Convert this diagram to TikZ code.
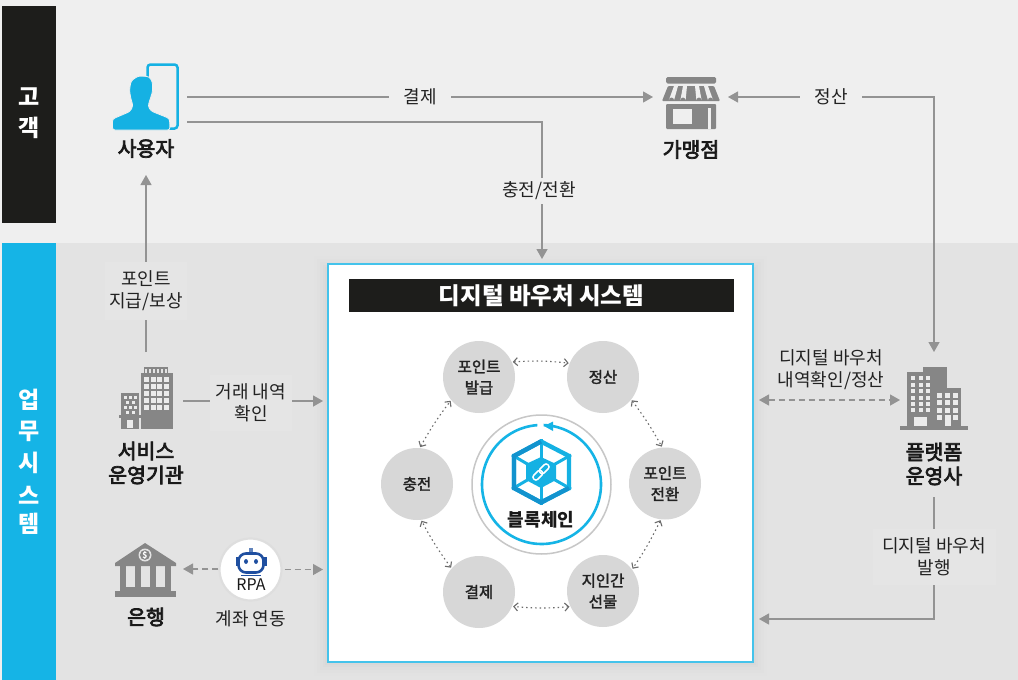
\documentclass[tikz,border=0pt]{standalone}
\usepackage{fontspec}
\usetikzlibrary{arrows.meta,calc}
\setmainfont{Noto Sans CJK KR}
\newfontfamily\medfont[FakeBold=2]{Noto Sans CJK KR}
\newfontfamily\semifont[FakeBold=3.5]{Noto Sans CJK KR}
\definecolor{bgtop}{HTML}{EFEFEF}
\definecolor{bglow}{HTML}{E3E3E3}
\definecolor{lblbox}{HTML}{E5E5E5}
\definecolor{barblack}{HTML}{1D1D1B}
\definecolor{barblue}{HTML}{15B4E6}
\definecolor{iconblue}{HTML}{15B1E3}
\definecolor{darkblue}{HTML}{1293CE}
\definecolor{icongray}{HTML}{868686}
\definecolor{linegray}{HTML}{939393}
\definecolor{circgray}{HTML}{D7D7D7}
\definecolor{txt}{HTML}{222222}
\definecolor{robotblue}{HTML}{1F4FA0}
\tikzset{
  ghost/.style={inner sep=0pt,outer sep=0pt},
  bartext/.style={text=white,font=\fontsize{23}{25}\selectfont\bfseries,inner sep=0pt},
  biglabel/.style={text=black!90,font=\fontsize{20.5}{24}\selectfont\semifont,align=center,inner sep=0pt},
  edgetext/.style={text=txt,font=\fontsize{18}{22}\selectfont,align=center,inner sep=0pt},
  conn/.style={draw=linegray,line width=1.3pt,-{Triangle[length=10pt,width=11pt]}},
  connboth/.style={conn,{Triangle[length=10pt,width=11pt]}-{Triangle[length=10pt,width=11pt]}},
  dashconn/.style={conn,dash pattern=on 6pt off 4pt},
  roundstep/.style={circle,fill=circgray,minimum size=72pt,inner sep=0pt,outer sep=1pt,text=txt,align=center,font=\fontsize{15.5}{21}\selectfont\medfont},
  dotconn/.style={draw=black!58,line width=1.1pt,dash pattern=on 1.5pt off 3pt,{Straight Barb[length=4pt,width=8pt]}-{Straight Barb[length=4pt,width=8pt]}},
}
\begin{document}
\begin{tikzpicture}[x=1pt,y=-1pt]
\useasboundingbox (0,0) rectangle (1018,680);
\fill[bgtop] (0,0) rectangle (1018,680);
\fill[bglow] (2,243) rectangle (1018,680);
\fill[barblack] (2,6) rectangle (56,223);
\fill[barblue] (2,243) rectangle (56,680);
\node[bartext] (barA1) at (29,97) {고};
\node[bartext] (barA2) at (29,128) {객};
\node[bartext] (barB1) at (29,400) {업};
\node[bartext] (barB2) at (29,431) {무};
\node[bartext] (barB3) at (29,463) {시};
\node[bartext] (barB4) at (29,495) {스};
\node[bartext] (barB5) at (29,524) {템};
% soft shadow of the system panel
\foreach \d/\o in {14/.004,11/.006,8/.008,5/.01,3/.012}{
  \fill[black,opacity=\o] (328-\d,264-\d+6) rectangle (753+\d,662+\d);
}
% anchor nodes
\node[ghost,minimum width=82pt,minimum height=156pt] (user) at (146,97) {};
\node[ghost,minimum width=75pt,minimum height=60pt] (shop) at (690.5,97) {};
\node[ghost,minimum width=74pt,minimum height=98pt] (svc) at (146,401) {};
\node[ghost,minimum width=74pt,minimum height=60pt] (bank) at (146,569) {};
\node[ghost,minimum width=68pt,minimum height=96pt] (plat) at (934,400) {};
\node[ghost,minimum width=68pt,minimum height=68pt] (platlab) at (934,463) {};
% system panel
\node[draw=barblue!80,line width=1.2pt,fill=white,minimum width=425pt,minimum height=398pt,inner sep=0pt,outer sep=0pt] (sys) at (540.5,463) {};
\coordinate (sysIn) at (753,619);
% connectors
\draw[conn] (user.east) -- (shop.west);
\draw[conn,shorten >=5pt] ([yshift=-25pt]user.east) -| ([xshift=1.5pt]sys.north);
\draw[connboth] (shop.east) -| (plat.north);
\draw[conn] (svc.north) -- (user.south);
\draw[conn,shorten >=5pt] (svc.east) -- (svc.east -| sys.west);
\draw[dashconn,{Triangle[length=10pt,width=11pt]}-{Triangle[length=10pt,width=11pt]},shorten <=6pt] (sys.east |- plat.west) -- (plat.west);
\draw[conn,shorten >=6pt] (platlab.south) |- (sysIn);
% edge labels
\node[edgetext,fill=bgtop,minimum width=62pt,minimum height=24pt] (lblPay) at (420,97) {결제};
\node[edgetext,fill=bgtop,minimum width=62pt,minimum height=24pt] (lblSettle) at (831,97) {정산};
\node[edgetext,fill=bgtop,minimum width=90pt,minimum height=26pt] (lblCharge) at (539,190.5) {충전/전환};
\node[edgetext,fill=lblbox,minimum width=82pt,minimum height=58pt] (lblPoint) at (146,291) {포인트\\지급/보상};
\node[edgetext,fill=lblbox,minimum width=82pt,minimum height=56pt] (lblTrade) at (251,403) {거래 내역\\확인};
\node[edgetext] (lblCheck) at (831,370) {디지털 바우처\\내역확인/정산};
\node[edgetext,fill=lblbox,minimum width=123pt,minimum height=56pt] (lblIssue) at (934,557) {디지털 바우처\\발행};
% big labels
\node[biglabel] (tUser) at (146,148.5) {사용자};
\node[biglabel] (tShop) at (691,149.5) {가맹점};
\node[biglabel] (tSvc) at (146,463) {서비스\\운영기관};
\node[biglabel] (tBank) at (146,617) {은행};
\node[biglabel] (tPlat) at (934,464) {플랫폼\\운영사};
% panel title
\node[fill=barblack,text=white,minimum width=385pt,minimum height=33pt,inner sep=0pt,font=\fontsize{23.5}{25}\selectfont\bfseries] (title) at (541.5,295.5) {디지털 바우처 시스템};
% process circles
\node[roundstep] (c1) at (479,377) {포인트\\발급};
\node[roundstep] (c2) at (603,377) {정산};
\node[roundstep] (c3) at (665,483.5) {포인트\\전환};
\node[roundstep] (c4) at (603,591) {지인간\\선물};
\node[roundstep] (c5) at (479,592) {결제};
\node[roundstep] (c6) at (417,484) {충전};
\draw[dotconn] (c1.24) to[bend left=5] (c2.158);
\draw[dotconn] (c2.-39) to[bend left=4] (c3.95);
\draw[dotconn] (c3.263) to[bend left=4] (c4.37);
\draw[dotconn] (c4.205) to[bend left=5] (c5.-23);
\draw[dotconn] (c5.139) to[bend left=4] (c6.-83);
\draw[dotconn] (c6.85) to[bend left=4] (c1.220);
% blockchain hub
\node[circle,draw=black!22,line width=1.5pt,fill=white,minimum size=139pt,inner sep=0pt] (hub) at (541.5,484.5) {};
\draw[barblue,line width=2.6pt] plot[smooth,domain=94:448,samples=120] ({541.5+59.5*cos(\x)},{484.5-59.5*sin(\x)});
\fill[barblue] (544,426) -- (553,421.5) -- (553,431) -- cycle;
% hexagon logo
\foreach \vx/\vy in {541/439,571/455,571/489,541/505,512/489,512/455}{
  \draw[iconblue,line width=3pt] (\vx,\vy) -- (541,472);
}
\draw[iconblue,line width=4.4pt,line join=miter] (541,441.5) -- (569,456) -- (569,488) -- (541,502.5) -- (514,488) -- (514,456) -- cycle;
\draw[darkblue,line width=4.4pt,line join=miter] (541,441.5) -- (514,456) -- (514,488) -- (541,502.5) -- (569,488);
\fill[iconblue] (541,457) -- (556,464) -- (556,480) -- (541,488) -- (526,480) -- (526,464) -- cycle;
\begin{scope}[shift={(541,472)},rotate=45]
  \draw[white,line width=1.5pt,rounded corners=2.4pt] (-10,-2.8) rectangle (1,2.8);
  \draw[white,line width=1.5pt,rounded corners=2.4pt] (-1,-2.8) rectangle (10,2.8);
\end{scope}
\node[biglabel,font=\fontsize{18}{22}\selectfont\bfseries] (tChain) at (541,519.5) {블록체인};
% user icon
\draw[iconblue,line width=2.5pt,rounded corners=3pt] (147.5,90) -- (147.5,64.5) -- (177.5,64.5) -- (177.5,128.5) -- (165,128.5);
\fill[iconblue,draw=bgtop,line width=.8pt,rounded corners=2.5pt] (112.5,130) -- (112.5,119) -- (130,111.5) -- (133,106) -- (130.5,97) -- (129.5,90) -- (131,81) -- (138,76) -- (149,76.5) -- (152.5,82) -- (152.5,92) -- (150.5,98) -- (148,106) -- (151,111) -- (169.5,118.5) -- (170,130) -- cycle;
% shop icon
\fill[icongray,rounded corners=1.5pt] (666,77) rectangle (716,83.5);
\fill[icongray,rounded corners=1pt] (668,86) -- (714,86) -- (720,101) -- (662,101) -- cycle;
\foreach \a/\b in {676/671.5,685/683,697/699,706/710.5}{
  \fill[bgtop] (\a-2,86) -- (\a+2,86) -- (\b+2.6,100) arc[start angle=0,end angle=-180,radius=2.6] -- cycle;
}
\fill[icongray,rounded corners=1pt] (666,104) rectangle (716,129);
\fill[bgtop] (673,108.5) rectangle (692,123.5);
\fill[bgtop] (708,108) rectangle (711,129);
% service building
\fill[icongray] (144,367) rectangle (168,374);
\fill[icongray] (141,373) rectangle (173,429);
\foreach \cx in {145,149,153,157,161,165}{ \fill[bglow] (\cx,369) rectangle (\cx+1.6,372.5); }
\foreach \cx in {144.3,151,157.3,164}{ \foreach \cy in {377,384,391,398,405}{ \fill[white!92!black] (\cx,\cy) rectangle (\cx+5,\cy+5); } }
\fill[icongray] (121,393) rectangle (139,429);
\fill[icongray] (119,415) rectangle (141,418);
\foreach \cx/\cy in {123.5/396,129/396,134/396,126/401,131.5/401,123.5/406,129/406,134/406,126/411,131.5/411}{ \fill[white!92!black] (\cx,\cy) rectangle (\cx+3,\cy+2.6); }
\fill[white!92!black] (127,419.5) rectangle (133,428);
% bank icon
\fill[icongray] (145,543) -- (176,563) -- (176,566) -- (115,566) -- (115,563) -- cycle;
\fill[bglow] (145,555) circle (6.5pt);
\fill[icongray] (145,555) circle (5pt);
\node[text=white,inner sep=0pt,font=\fontsize{8.5}{9}\selectfont\bfseries] (coin) at (145,555) {\$};
\foreach \cx in {120,135,150,165}{ \fill[icongray] (\cx,566) rectangle (\cx+6,587); }
\fill[icongray] (120,587) rectangle (171,591);
\fill[icongray] (115,591) rectangle (176,596.5);
% RPA
\node[circle,draw=black!13,line width=2.2pt,fill=white,minimum size=62pt,inner sep=0pt] (rpa) at (250.5,569.5) {};
\draw[dashconn] (rpa.west |- bank.east) -- (bank.east);
\draw[dashconn,shorten >=5pt,shorten <=2pt] (rpa.east) -- (rpa.east -| sys.west);
\fill[robotblue] (235.5,557) rectangle (239,566);
\fill[robotblue] (263,557) rectangle (266.5,566);
\draw[robotblue,line width=2.6pt,fill=white,rounded corners=7.5pt] (238.5,553.5) rectangle (263.5,572.5);
\fill[robotblue] (246,561.5) ellipse (2pt and 2.4pt);
\fill[robotblue] (256,561.5) ellipse (2pt and 2.4pt);
\fill[robotblue] (241,574.5) rectangle (261,576);
\fill[robotblue!70] (249,548) rectangle (253,552);
\node[text=black!90,inner sep=0pt,font=\fontsize{16}{17}\selectfont] (rpaT) at (251,585) {RPA};
\node[edgetext] (rpaL) at (251,619) {계좌 연동};
% platform icon
\fill[icongray] (907,372) rectangle (923,427);
\fill[icongray] (923,367) rectangle (947,427);
\fill[icongray] (933,388) rectangle (961,427);
\fill[icongray] (900,426) rectangle (968,429.5);
\foreach \cx in {911,918.5,926}{ \foreach \cy in {376,382.5,389,395.5,402,408}{ \fill[white!92!black] (\cx,\cy) rectangle (\cx+4,\cy+4); } }
\fill[white!92!black] (914,417) rectangle (927,426);
\foreach \cx in {937,945,953}{ \foreach \cy in {393,400,408}{ \fill[white!92!black] (\cx,\cy) rectangle (\cx+4.5,\cy+4.5); } }
\fill[white!92!black] (937,415) rectangle (941.5,419.5);
\fill[white!92!black] (953,415) rectangle (957.5,419.5);
\fill[white!92!black] (944.5,415) rectangle (951,426);
\end{tikzpicture}
\end{document}
